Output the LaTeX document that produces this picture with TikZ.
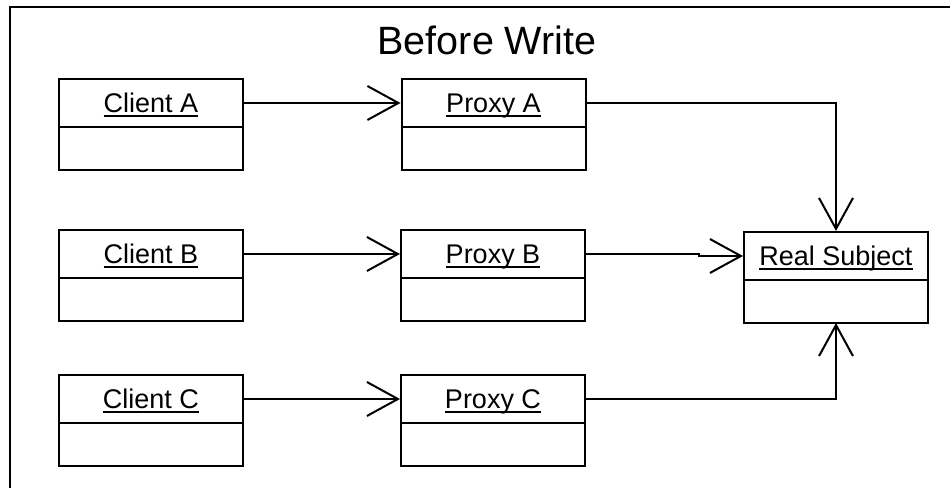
\documentclass[tikz,border=0pt]{standalone}
\usepackage{fontspec}
\setmainfont{Liberation Sans}
\usetikzlibrary{arrows.meta}
% underlined class name with a fixed rule just below the baseline
\newcommand{\clsname}[1]{\leavevmode\setbox0\hbox{#1}\rlap{\rule[-4pt]{\wd0}{1.8pt}}\box0}
\tikzset{
  frameline/.style={line width=2pt},
  cname/.style={draw, line width=2pt, minimum width=184pt, minimum height=48pt,
    inner sep=0pt, text height=19.3pt, text depth=0pt,
    font=\fontsize{27}{32}\selectfont},
  cbody/.style={draw, line width=2pt, minimum width=184pt, minimum height=43pt,
    inner sep=0pt, outer sep=0pt, anchor=north},
  conn/.style={line width=1.4pt, -{Straight Barb[length=31pt,width=34pt,line width=2pt]}},
}
% body compartment hanging below a name compartment, sharing its bottom edge
\newcommand{\clsbody}[2]{\node[cbody] (#1) at ([yshift=1pt]#2.south) {};}
\begin{document}
\begin{tikzpicture}[x=1pt,y=1pt]
\path[use as bounding box] (0,0) rectangle (950,488);
% outer frame
\draw[frameline] (10,0) -- (10,481) -- (950,481);
\node[anchor=base, font=\fontsize{39.5}{46}\selectfont] (title) at (487,433) {Before Write};

% classes
\node[cname] (ca) at (151,385) {\clsname{Client A}};
\clsbody{cab}{ca}
\node[cname] (pa) at (493.5,385) {\clsname{Proxy A}};
\clsbody{pab}{pa}

\node[cname] (cb) at (151,234) {\clsname{Client B}};
\clsbody{cbb}{cb}
\node[cname] (pb) at (493,234) {\clsname{Proxy B}};
\clsbody{pbb}{pb}

\node[cname] (cc) at (151,89) {\clsname{Client C}};
\clsbody{ccb}{cc}
\node[cname] (pc) at (493,89) {\clsname{Proxy C}};
\clsbody{pcb}{pc}

\node[cname] (rs) at (836,232) {\clsname{Real Subject}};
\clsbody{rsb}{rs}

% associations
\draw[conn] (ca.east) -- (pa.west);
\draw[conn] (cb.east) -- (pb.west);
\draw[conn] (cc.east) -- (pc.west);
\draw[conn] (pa.east) -| (rs.north);
\draw[conn] (pb.east) -- ++(113,0) |- (rs.west);
\draw[conn] (pc.east) -| (rsb.south);
\end{tikzpicture}
\end{document}
